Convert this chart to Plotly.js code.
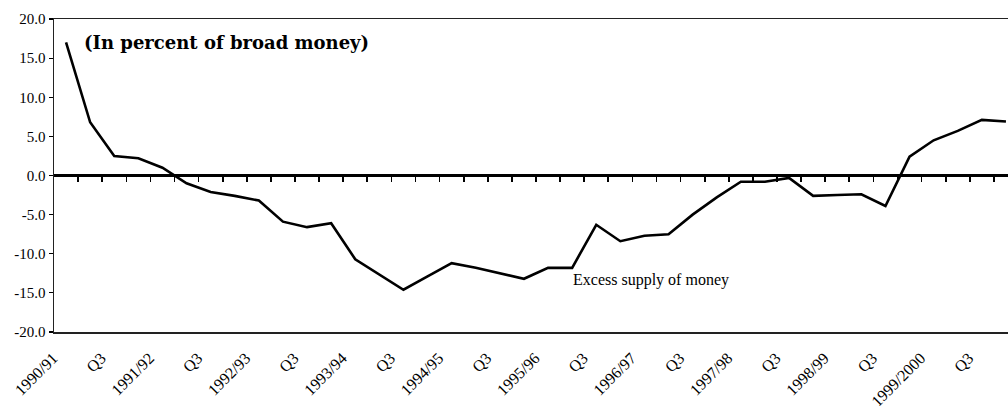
<!DOCTYPE html>
<html>
<head>
<meta charset="utf-8">
<script src="https://cdn.plot.ly/plotly-3.0.1.min.js"></script>
<style>
html, body { margin: 0; padding: 0; overflow: hidden; background: #fff; }
#chart { width: 1022px; height: 406px; }
</style>
</head>
<body>
<div id="chart"></div>
<script>
// Quarterly periods (index positions) and tick labels every second quarter
const quarterIndex = [0,1,2,3,4,5,6,7,8,9,10,11,12,13,14,15,16,17,18,19,20,21,22,23,24,25,26,27,28,29,30,31,32,33,34,35,36,37,38,39];
const excessMoney = [17.0, 6.8, 2.5, 2.2, 1.0, -1.0, -2.1, -2.6, -3.2, -5.9,
                     -6.6, -6.1, -10.7, -12.6, -14.6, -12.9, -11.2, -11.8, -12.5, -13.2,
                     -11.8, -11.8, -6.3, -8.4, -7.7, -7.5, -5.0, -2.8, -0.8, -0.8,
                     -0.3, -2.6, -2.5, -2.4, -3.9, 2.4, 4.5, 5.7, 7.1, 6.9];
const labelIndex = [0,2,4,6,8,10,12,14,16,18,20,22,24,26,28,30,32,34,36,38];
const labelText = ["1990/91","Q3","1991/92","Q3","1992/93","Q3","1993/94","Q3","1994/95","Q3",
                   "1995/96","Q3","1996/97","Q3","1997/98","Q3","1998/99","Q3","1999/2000","Q3"];
const boundaryTicks = quarterIndex.slice(0, -1).map(k => k + 0.5);
const yTicks = [-20, -15, -10, -5, 0, 5, 10, 15, 20];
const yTickText = yTicks.map(v => v.toFixed(1));

const serif = "Liberation Serif, Times New Roman, serif";

const traces = [
  {
    x: quarterIndex, y: excessMoney, type: 'scatter', mode: 'lines',
    line: { color: '#000', width: 2.6 }, xaxis: 'x', yaxis: 'y',
    showlegend: false, hoverinfo: 'x+y'
  },
  {
    x: boundaryTicks, y: boundaryTicks.map(() => null), type: 'scatter', mode: 'lines',
    xaxis: 'x2', yaxis: 'y', showlegend: false, hoverinfo: 'skip'
  }
];

const xRange = [-0.5, 39.5];

const layout = {
  width: 1022, height: 406,
  margin: { l: 54, r: 4, t: 19, b: 74 },
  paper_bgcolor: '#fff', plot_bgcolor: '#fff',
  showlegend: false,
  xaxis: {
    range: xRange, showgrid: false, zeroline: false,
    showline: true, mirror: true, linecolor: '#222', linewidth: 1.5,
    tickmode: 'array', tickvals: labelIndex, ticktext: labelText,
    ticks: '', tickangle: -45,
    ticklabelstandoff: 9, ticklabelshift: -13,
    tickfont: { family: serif, size: 16, color: '#000' }
  },
  xaxis2: {
    overlaying: 'x', anchor: 'free', position: 0.5, range: xRange,
    showgrid: false, zeroline: false, showline: false,
    tickmode: 'array', tickvals: boundaryTicks, ticks: 'outside',
    ticklen: 5, tickwidth: 1.6, tickcolor: '#000', showticklabels: false
  },
  yaxis: {
    range: [-20, 20], showgrid: false,
    zeroline: true, zerolinecolor: '#000', zerolinewidth: 2.2,
    showline: true, mirror: true, linecolor: '#222', linewidth: 1.5,
    tickmode: 'array', tickvals: yTicks, ticktext: yTickText,
    ticks: 'outside', ticklen: 4, tickwidth: 1.2, tickcolor: '#000',
    tickfont: { family: serif, size: 15, color: '#000' }
  },
  annotations: [
    {
      text: '<b>(In percent of broad money)</b>', xref: 'paper', yref: 'paper',
      x: 0.029, y: 0.925, xanchor: 'left', yanchor: 'middle', showarrow: false,
      font: { family: 'DejaVu Serif, serif', size: 18, color: '#000' }
    },
    {
      text: 'Excess supply of money', xref: 'x', yref: 'y',
      x: 20.95, y: -13.4, xanchor: 'left', yanchor: 'middle', showarrow: false,
      font: { family: serif, size: 16, color: '#000' }
    }
  ]
};

Plotly.newPlot('chart', traces, layout, { displayModeBar: false, staticPlot: true });
</script>
</body>
</html>
